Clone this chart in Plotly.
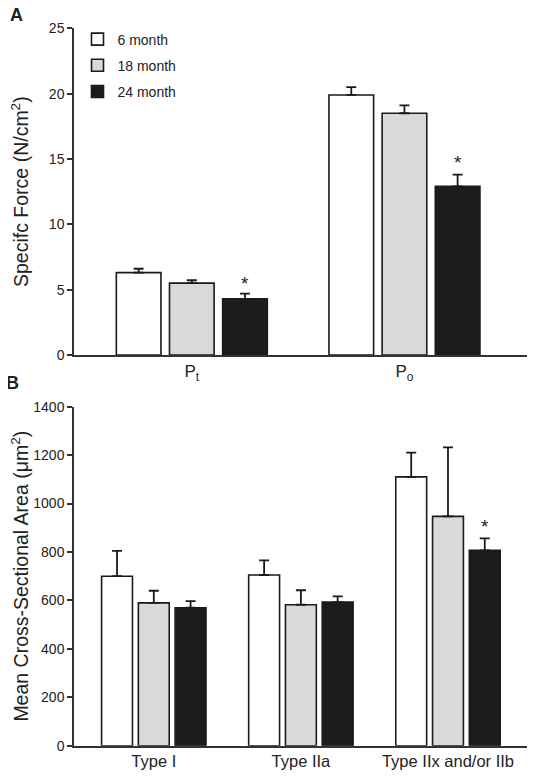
import plotly.graph_objects as go

# ---------------- data ----------------
series_names = ["6 month", "18 month", "24 month"]
series_colors = ["#ffffff", "#d9d9d9", "#1c1c1c"]

groups_a = ["P<sub>t</sub>", "P<sub>o</sub>"]
m6_a = [6.3, 19.9]
m18_a = [5.5, 18.5]
m24_a = [4.3, 12.9]
err6_a = [0.3, 0.6]
err18_a = [0.22, 0.6]
err24_a = [0.4, 0.9]
star_a_y = [5.45, 14.75]

groups_b = ["Type I", "Type IIa", "Type IIx and/or IIb"]
m6_b = [700, 705, 1110]
m18_b = [590, 582, 947]
m24_b = [570, 593, 807]
err6_b = [105, 60, 100]
err18_b = [50, 60, 285]
err24_b = [27, 24, 49]
star_b_idx = [2]
star_b_y = [904]

FONT = "Arial, Liberation Sans, Helvetica, sans-serif"
AX = "#333333"
TXT = "#222222"

fig = go.Figure()

def add_bars(groups, vals, errs, xa, ya, show):
    for name, col, v, e in zip(series_names, series_colors, vals, errs):
        fig.add_trace(go.Bar(
            x=groups, y=v, name=name, xaxis=xa, yaxis=ya,
            marker=dict(color=col, line=dict(color="#1a1a1a", width=1.6)),
            error_y=dict(type="data", symmetric=False, array=e,
                         arrayminus=[0] * len(e), color="#1a1a1a",
                         thickness=1.8, width=5),
            showlegend=show, legendgroup=name,
        ))

add_bars(groups_a, [m6_a, m18_a, m24_a], [err6_a, err18_a, err24_a], "x", "y", True)
add_bars(groups_b, [m6_b, m18_b, m24_b], [err6_b, err18_b, err24_b], "x2", "y2", False)

# page has an 8px body margin: figure is sized to fit the window exactly
OFF = 8
W, H = 535 - OFF, 779 - OFF
ML, MR, MT, MB = 74 - OFF, 7, 20, 33
ph = H - MT - MB
pw = W - ML - MR

def ydom(top_page, bot_page):
    return [(H - MB - (bot_page - OFF)) / ph, (H - MB - (top_page - OFF)) / ph]

def px2paper(xp, yp):
    return (xp - OFF - ML) / pw, (H - MB - (yp - OFF)) / ph

# significance asterisks (over the 24-month bars)
annotations = []
for i, yv in enumerate(star_a_y):
    annotations.append(dict(x=i + 0.25, y=yv, xref="x", yref="y", text="*",
                            showarrow=False, font=dict(size=19, color=TXT, family=FONT)))
for i, yv in zip(star_b_idx, star_b_y):
    annotations.append(dict(x=i + 0.25, y=yv, xref="x2", yref="y2", text="*",
                            showarrow=False, font=dict(size=19, color=TXT, family=FONT)))
# panel letters
for (px_, py_, t) in [(16, 15, "A"), (12, 383, "B")]:
    ax_, ay_ = px2paper(px_, py_)
    annotations.append(dict(x=ax_, y=ay_, xref="paper", yref="paper", text="<b>%s</b>" % t,
                            xanchor="center", yanchor="middle",
                            showarrow=False, font=dict(size=18, color=TXT, family=FONT)))

axis_common = dict(showline=True, linecolor=AX, linewidth=1.5, showgrid=False,
                   zeroline=False, automargin=False)

lx, ly = px2paper(77.5, 23.5)

fig.update_layout(
    template="none",
    width=W, height=H,
    margin=dict(l=ML, r=MR, t=MT, b=MB, autoexpand=False),
    paper_bgcolor="white", plot_bgcolor="white",
    barmode="group", bargap=0.25, bargroupgap=0.16,
    font=dict(family=FONT, color=TXT),
    annotations=annotations,
    showlegend=True,
    legend=dict(x=lx, y=ly, xanchor="left", yanchor="top",
                bgcolor="rgba(0,0,0,0)", font=dict(size=14, family=FONT, color=TXT),
                tracegroupgap=5, itemclick=False),
    xaxis=dict(**axis_common, type="category", range=[-0.554, 1.581], ticks="",
               anchor="y", tickfont=dict(size=17, color=TXT, family=FONT)),
    yaxis=dict(**axis_common, domain=ydom(28.3, 355), range=[0, 25],
               tickvals=[0, 5, 10, 15, 20, 25], ticks="outside", ticklen=5,
               tickcolor=AX, tickwidth=1.5, anchor="x",
               tickfont=dict(size=14, color=TXT, family=FONT),
               title=dict(text="Specifc Force (N/cm<sup>2</sup>)", standoff=19,
                          font=dict(size=19.5, color=TXT, family=FONT))),
    xaxis2=dict(**axis_common, type="category", range=[-0.5425, 2.544], ticks="",
                anchor="y2", tickfont=dict(size=16.5, color=TXT, family=FONT)),
    yaxis2=dict(**axis_common, domain=ydom(406.7, 745.7), range=[0, 1400],
                tickvals=[0, 200, 400, 600, 800, 1000, 1200, 1400], ticks="outside",
                ticklen=5, tickcolor=AX, tickwidth=1.5, anchor="x2",
                tickfont=dict(size=14, color=TXT, family=FONT),
                title=dict(text="Mean Cross-Sectional Area (μm<sup>2</sup>)", standoff=7,
                           font=dict(size=19.5, color=TXT, family=FONT))),
)

fig.write_html("out.html")
